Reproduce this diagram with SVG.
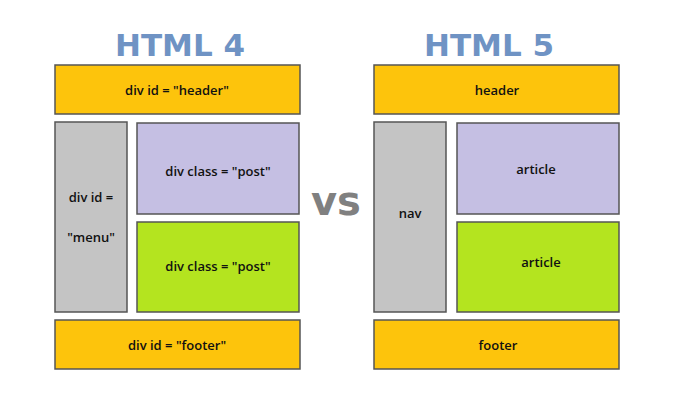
<svg xmlns="http://www.w3.org/2000/svg" width="700" height="400" viewBox="0 0 700 400">
<style>
.b{stroke:#555;stroke-width:1.5}
.y{fill:#fdc40c}.g{fill:#c4c4c4}.p{fill:#c5bfe3}.l{fill:#b4e41f}
text{font-family:"Open Sans","DejaVu Sans",sans-serif;font-size:13px;font-weight:600;fill:#111;text-anchor:middle}
.t{font-family:"DejaVu Sans",sans-serif;font-size:31px;font-weight:bold;fill:#6f93c4}
.vs{font-family:"DejaVu Sans",sans-serif;font-size:40px;font-weight:bold;fill:#808080}
</style>
<rect width="700" height="400" fill="#fff"/>
<text class="t" x="180" y="56">HTML 4</text>
<text class="t" x="489" y="56">HTML 5</text>
<text class="vs" x="336" y="215">vs</text>
<g id="h4header"><rect class="b y" x="55" y="65" width="245" height="49"/><text x="177" y="95">div id = "header"</text></g>
<g id="h4menu"><rect class="b g" x="55" y="122" width="72" height="190"/><text x="91" y="202">div id =</text><text x="91" y="242">"menu"</text></g>
<g id="h4post1"><rect class="b p" x="137" y="123" width="162" height="91"/><text x="218" y="176">div class = "post"</text></g>
<g id="h4post2"><rect class="b l" x="137" y="222" width="162" height="90"/><text x="218" y="271">div class = "post"</text></g>
<g id="h4footer"><rect class="b y" x="55" y="320" width="245" height="49"/><text x="177" y="350">div id = "footer"</text></g>
<g id="h5header"><rect class="b y" x="374" y="65" width="245" height="49"/><text x="497" y="95">header</text></g>
<g id="h5nav"><rect class="b g" x="374" y="122" width="72" height="190"/><text x="410" y="218">nav</text></g>
<g id="h5article1"><rect class="b p" x="457" y="123" width="162" height="91"/><text x="536" y="174">article</text></g>
<g id="h5article2"><rect class="b l" x="457" y="222" width="162" height="90"/><text x="541" y="267">article</text></g>
<g id="h5footer"><rect class="b y" x="374" y="320" width="245" height="49"/><text x="498" y="350">footer</text></g>
<g id="connectors"/>
</svg>
